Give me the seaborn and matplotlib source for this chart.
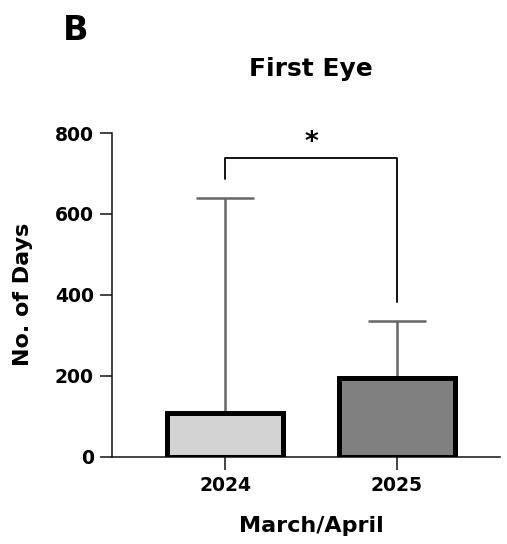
import numpy as np
import pandas as pd
import matplotlib
matplotlib.use("Agg")
import matplotlib.pyplot as plt
import seaborn as sns

# data
years = ["2024", "2025"]
mean_days = [108, 195]
upper_err = [532, 141]   # top of error bar minus mean
bar_colors = ["#d3d3d3", "#808080"]
sig_label = "*"
bracket_y = 738
bracket_drop = [686, 383]

sns.set_theme(style="ticks")
plt.rcParams["font.family"] = ["DejaVu Sans"]
plt.rcParams["font.weight"] = "bold"
plt.rcParams["text.color"] = "black"
plt.rcParams["axes.labelcolor"] = "black"
plt.rcParams["xtick.color"] = "black"
plt.rcParams["ytick.color"] = "black"

df = pd.DataFrame({"year": years, "days": mean_days})

fig = plt.figure(figsize=(5.07, 5.44), dpi=100)
ax = fig.add_axes([0.221, 0.160, 0.765, 0.5955])

sns.barplot(data=df, x="year", y="days", hue="year", palette=bar_colors,
            width=0.674, edgecolor="black", linewidth=3.6, legend=False,
            errorbar=None, ax=ax, zorder=3)

# one-sided error bars
xs = np.arange(len(years))
ax.errorbar(xs, mean_days, yerr=[np.zeros(len(years)), upper_err], fmt="none",
            ecolor="#666666", elinewidth=1.8, capsize=21, capthick=1.8, zorder=2)

# significance bracket
ax.plot([xs[0], xs[0], xs[1], xs[1]],
        [bracket_drop[0], bracket_y, bracket_y, bracket_drop[1]],
        color="black", lw=1.3, clip_on=False)
ax.text((xs[0] + xs[1]) / 2, 776, sig_label, ha="center", va="center",
        fontsize=19, fontweight="bold")

ax.set_xlim(-0.66, 1.6)
ax.set_ylim(0, 800)
ax.set_yticks([0, 200, 400, 600, 800])
sns.despine(ax=ax)
for s in ["left", "bottom"]:
    ax.spines[s].set_linewidth(1.1)
    ax.spines[s].set_color("#111111")
ax.tick_params(axis="both", length=9, width=1.1, color="#111111", labelsize=13.5)
ax.tick_params(axis="y", pad=4)
ax.tick_params(axis="x", pad=5)
for lab in ax.get_xticklabels() + ax.get_yticklabels():
    lab.set_fontweight("bold")

ax.set_xlabel("March/April", fontsize=16, fontweight="bold", va="center")
ax.set_ylabel("No. of Days", fontsize=16, fontweight="bold", va="center", ha="center")
ax.xaxis.set_label_coords(0.513, -0.213)
ax.yaxis.set_label_coords(-0.229, 0.503)

fig.text(311 / 507, 1 - 76 / 544, "First Eye", fontsize=18, fontweight="bold",
         ha="center", va="baseline")
fig.text(76 / 507, 1 - 40 / 544, "B", fontsize=24, fontweight="bold",
         ha="center", va="baseline")

fig.savefig("out.png", dpi=100)
